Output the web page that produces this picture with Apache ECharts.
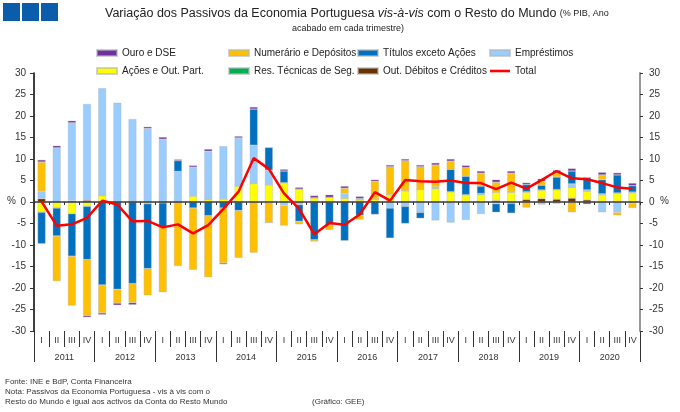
<!DOCTYPE html>
<html><head><meta charset="utf-8">
<script src="https://cdn.jsdelivr.net/npm/echarts@6/dist/echarts.min.js"></script>
<style>html,body{margin:0;padding:0;background:#fff}#c{width:680px;height:412px}</style>
</head><body><div id="c"></div>
<script>
const years = ['2011','2012','2013','2014','2015','2016','2017','2018','2019','2020'];
const quarterLabels = ['I','II','III','IV','I','II','III','IV','I','II','III','IV','I','II','III','IV','I','II','III','IV',
  'I','II','III','IV','I','II','III','IV','I','II','III','IV','I','II','III','IV','I','II','III','IV'];
const yTicks = {min: -30, max: 30, step: 5};

const outDebitos = [0.8,0,0,0.4, 0,0,0,0, 0,0,0,0, 0,0,0,0, 0,0,0,0, 0,0,0,0, 0,0,0,0, 0,0,0.35,0, 0.6,0.8,0.65,0.9, 0.5,0,0,0];
const acoes = [-2.4,-1.4,-2.7,-1.0, 1.5,0,0.2,-0.4, 0,0,1.4,0.6, 0.7,3.7,4.3,4.0, 4.5,3.0,1.0,1.1, 0.9,0.5,0.7,1.7, 2.6,2.9,3.1,2.4, 1.7,1.7,1.95,2.3, 1.7,2.0,2.25,2.5, 2.0,1.7,2.1,2.1];
const resTecnicas = [0,0,0.3,0.2, 0,0,0,0, -0.2,0,0,0, 0,0,0,0, 0,0,0,0, 0,0,0,0, 0,0,0.2,0, 0,0.3,0,0, 0.1,0,0,0, 0,0.2,0,0.2];
const emprestimos = [1.7,12.6,18.1,22.2, 25.0,23.1,19.1,17.1, 14.6,7.1,6.7,11.2, 12.3,11.2,8.9,3.4, -0.8,-0.6,0,0, 1.1,0.3,0,-1.4, -1.0,-2.4,-4.3,-4.8, -4.2,-2.8,-0.4,-0.3, 0,-0.6,-0.4,0.8, 0.3,-2.4,-2.4,-0.3];
const titulos = [-7.3,-6.5,-9.9,-12.4, -19.3,-20.3,-19.0,-15.1, -5.7,2.5,-1.4,-3.2, -1.4,-2.0,8.4,5.3, 2.7,-3.9,-8.8,-5.3, -9.0,-3.1,-2.9,-7.0, -4.0,-1.4,0.2,5.2, 4.3,1.7,-2.0,-2.3, 1.7,1.1,2.9,3.0, 2.9,3.3,4.2,1.5];
const numerario = [6.8,-10.5,-11.5,-13.0, -6.5,-3.2,-4.4,-6.2, -15.1,-14.9,-14.4,-14.3, -12.8,-11.0,-11.8,-4.8, -4.7,-0.7,-0.4,-1.2, 1.2,-1.0,4.1,6.5, 7.0,5.3,5.1,1.9, 2.0,3.0,2.3,4.4, -1.3,0.9,1.0,-2.4, 0,1.1,-0.7,-1.1];
const ouro = [0.5,0.5,0.5,-0.4, -0.4,-0.5,-0.5,0.4, 0.5,0.3,0.4,0.5, -0.3,0.4,0.5,0, 0.4,0.4,0.5,0.6, 0.5,0.5,0.4,0.4, 0.4,0.4,0.5,0.5, 0.5,0.5,0.6,0.5, 0.4,0.6,0.6,0.6, -0.5,0.6,0.5,0.6];
const total = [0.1,-5.5,-5.2,-3.7, 0.3,-0.6,-4.5,-4.4, -5.9,-5.2,-7.3,-5.4, -1.6,2.4,10.2,7.7, 2.0,-1.6,-7.5,-4.9, -5.3,-2.9,2.3,0.3, 5.1,4.8,4.7,5.0, 4.4,4.4,3.0,4.5, 3.1,5.1,7.2,5.5, 5.3,4.4,3.4,3.1];

const categories = quarterLabels.map((q, i) => years[Math.floor(i / 4)] + ' ' + q);

const FONT = 'Liberation Sans, Arial, sans-serif';
const gridRect = {left: 34, right: 40, top: 73, bottom: 81, containLabel: false};

function barSeries(name, data, color) {
  return {
    name, type: 'bar', stack: 'tot', data, barWidth: 8,
    xAxisIndex: 0, yAxisIndex: 0,
    itemStyle: {color, borderColor: 'rgba(180,180,180,0.6)', borderWidth: 0.6},
    emphasis: {disabled: true}
  };
}

const legendBase = {orient: 'vertical', top: 48, padding: 0, itemGap: 8, itemWidth: 20, itemHeight: 6,
  selectedMode: false, textStyle: {fontSize: 10, color: '#222', fontFamily: FONT}};

const chart = echarts.init(document.getElementById('c'), null, {renderer: 'canvas'});
chart.setOption({
  animation: false,
  backgroundColor: '#fff',
  textStyle: {fontFamily: FONT},
  grid: [gridRect, gridRect, gridRect],
  legend: [
    Object.assign({left: 96, data: [{name: 'Ouro e DSE', icon: 'rect'}, {name: 'Ações e Out. Part.', icon: 'rect'}]}, legendBase),
    Object.assign({left: 228, data: [{name: 'Numerário e Depósitos', icon: 'rect'}, {name: 'Res. Técnicas de Seg.', icon: 'rect'}]}, legendBase),
    Object.assign({left: 357, data: [{name: 'Títulos exceto Ações', icon: 'rect'}, {name: 'Out. Débitos e Créditos', icon: 'rect'}]}, legendBase),
    Object.assign({left: 489, data: [{name: 'Empréstimos', icon: 'rect'}, {name: 'Total', icon: 'path://M0,0H20V2.6H0Z'}]}, legendBase)
  ],
  xAxis: [
    {gridIndex: 0, type: 'category', data: categories, z: 3,
      axisLine: {onZero: true, lineStyle: {color: '#3a3a3a', width: 1.5}},
      axisTick: {show: true, interval: 0, length: 3, lineStyle: {color: '#333'}},
      axisLabel: {show: false}},
    {gridIndex: 1, type: 'category', data: quarterLabels, position: 'bottom',
      axisLine: {show: false, onZero: false},
      axisTick: {show: true, interval: 0, length: 16, lineStyle: {color: '#333'}},
      axisLabel: {interval: 0, fontSize: 9, color: '#333', margin: 5}},
    {gridIndex: 2, type: 'category', data: years, position: 'bottom',
      axisLine: {show: false, onZero: false},
      axisTick: {show: true, interval: 0, length: 31, lineStyle: {color: '#333'}},
      axisLabel: {interval: 0, fontSize: 9, color: '#333', margin: 22}}
  ],
  yAxis: [
    {gridIndex: 0, type: 'value', position: 'left', min: yTicks.min, max: yTicks.max, interval: yTicks.step,
      axisLine: {show: true, lineStyle: {color: '#000', width: 1.5}},
      axisTick: {show: true, length: 4, lineStyle: {color: '#333'}},
      splitLine: {show: false},
      axisLabel: {fontSize: 10, color: '#333', margin: 8}},
    {gridIndex: 0, type: 'value', position: 'right', min: yTicks.min, max: yTicks.max, interval: yTicks.step,
      axisLine: {show: true, lineStyle: {color: '#8c8c8c', width: 1.8}},
      axisTick: {show: true, length: 3, lineStyle: {color: '#333'}},
      splitLine: {show: false},
      axisLabel: {fontSize: 10, color: '#333', margin: 9}},
    {gridIndex: 1, type: 'value', show: false},
    {gridIndex: 2, type: 'value', show: false}
  ],
  series: [
    barSeries('Out. Débitos e Créditos', outDebitos, '#663300'),
    barSeries('Ações e Out. Part.', acoes, '#FFFF00'),
    barSeries('Res. Técnicas de Seg.', resTecnicas, '#00B050'),
    barSeries('Empréstimos', emprestimos, '#99CCFF'),
    barSeries('Títulos exceto Ações', titulos, '#0070C0'),
    barSeries('Numerário e Depósitos', numerario, '#FFC000'),
    barSeries('Ouro e DSE', ouro, '#7030A0'),
    {name: 'Total', type: 'line', data: total, xAxisIndex: 0, yAxisIndex: 0,
      symbol: 'none', z: 10, lineStyle: {color: '#FF0000', width: 2.5}, itemStyle: {color: '#FF0000'},
      emphasis: {disabled: true}}
  ],
  graphic: [
    {type: 'rect', left: 3, top: 3, shape: {width: 17, height: 18}, style: {fill: '#0B5CAB'}},
    {type: 'rect', left: 22, top: 3, shape: {width: 17, height: 18}, style: {fill: '#0B5CAB'}},
    {type: 'rect', left: 41, top: 3, shape: {width: 17, height: 18}, style: {fill: '#0B5CAB'}},
    {type: 'text', x: 105, y: 14, style: {
      text: '{a|Variação dos Passivos da Economia Portuguesa }{i|vis-à-vis}{a| com o Resto do Mundo }{s|(% PIB, Ano}',
      verticalAlign: 'middle', fill: '#222',
      rich: {
        a: {fontSize: 12.5, fontFamily: FONT, fill: '#222'},
        i: {fontSize: 12.5, fontFamily: FONT, fontStyle: 'italic', fill: '#222'},
        s: {fontSize: 9, fontFamily: FONT, fill: '#222'}
      }}},
    {type: 'text', x: 348, y: 29, style: {text: 'acabado em cada trimestre)', fontSize: 9, fontFamily: FONT,
      fill: '#222', align: 'center', verticalAlign: 'middle'}},
    {type: 'text', x: 7, y: 201, style: {text: '%', fontSize: 10, fontFamily: FONT, fill: '#333', verticalAlign: 'middle'}},
    {type: 'text', x: 660, y: 201, style: {text: '%', fontSize: 10, fontFamily: FONT, fill: '#333', verticalAlign: 'middle'}},
    {type: 'text', x: 5, y: 382, style: {text: 'Fonte: INE e BdP, Conta Financeira', fontSize: 8, fontFamily: FONT, fill: '#333', verticalAlign: 'middle'}},
    {type: 'text', x: 5, y: 392, style: {text: 'Nota: Passivos da Economia Portuguesa - vis à vis com o', fontSize: 8, fontFamily: FONT, fill: '#333', verticalAlign: 'middle'}},
    {type: 'text', x: 5, y: 402, style: {text: 'Resto do Mundo é igual aos activos da Conta do Resto Mundo', fontSize: 8, fontFamily: FONT, fill: '#333', verticalAlign: 'middle'}},
    {type: 'text', x: 312, y: 402, style: {text: '(Gráfico: GEE)', fontSize: 8, fontFamily: FONT, fill: '#333', verticalAlign: 'middle'}}
  ]
});
</script>
</body></html>
